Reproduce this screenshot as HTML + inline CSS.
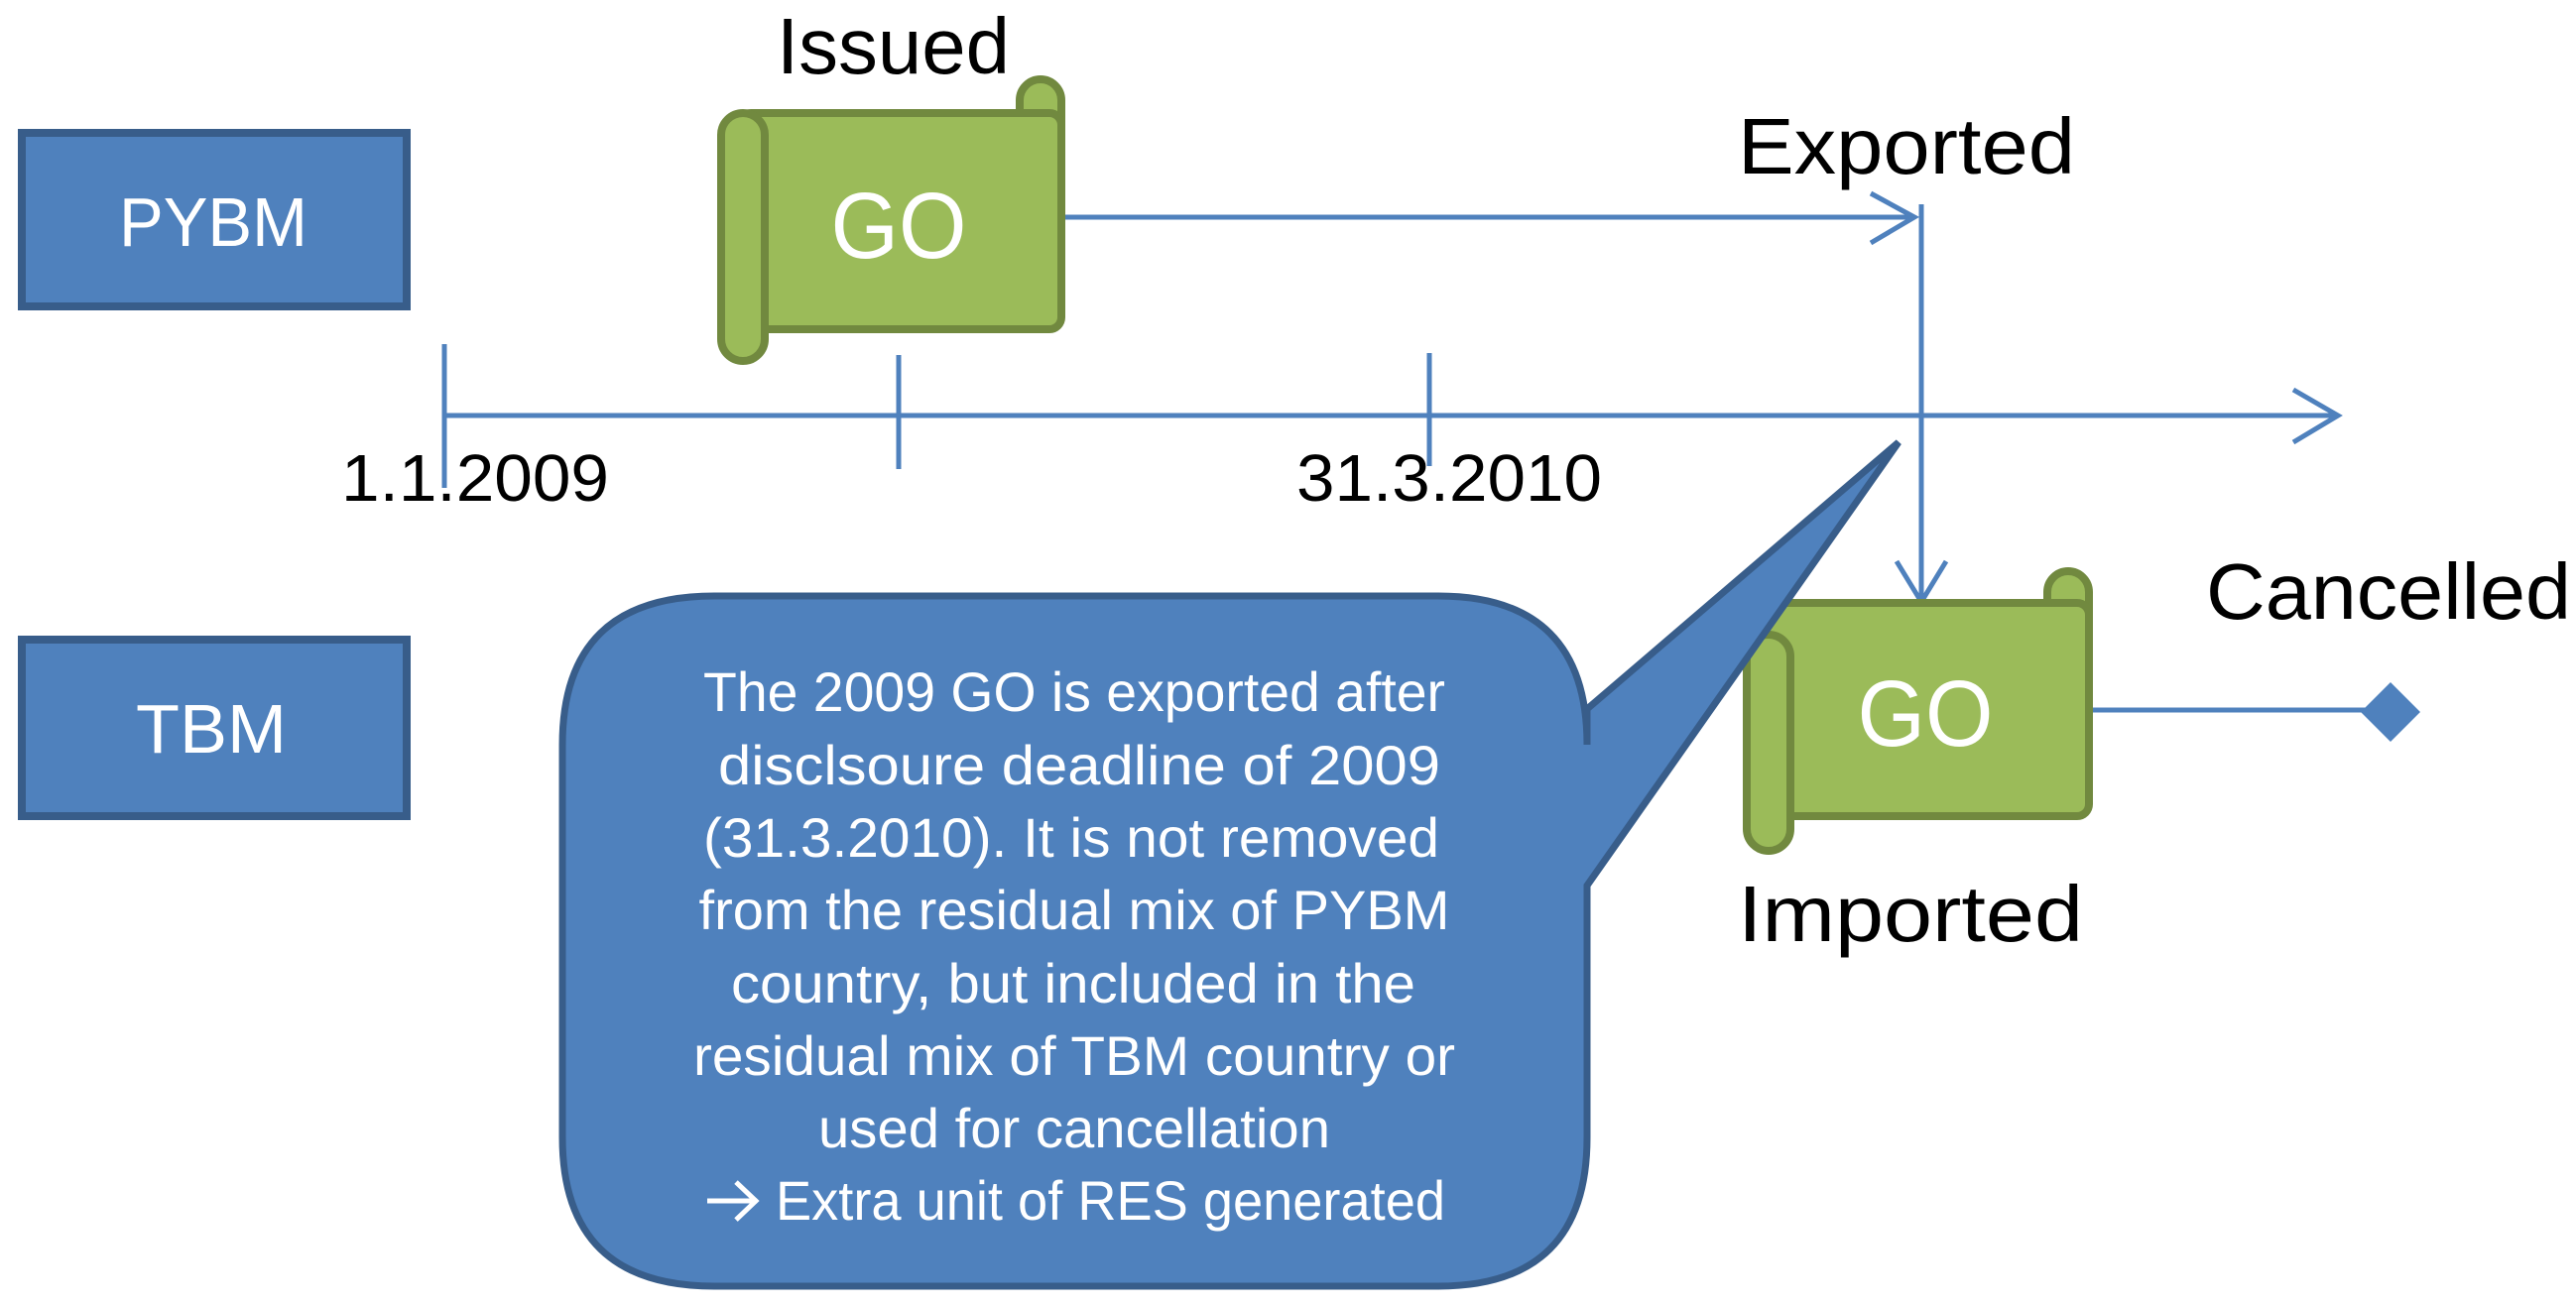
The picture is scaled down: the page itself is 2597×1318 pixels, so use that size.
<!DOCTYPE html>
<html><head><meta charset="utf-8"><style>html,body{margin:0;padding:0;background:#fff}svg{display:block}</style></head>
<body>
<svg width="2597" height="1318" viewBox="0 0 2597 1318" xmlns="http://www.w3.org/2000/svg" font-family="Liberation Sans, sans-serif">
<rect width="2597" height="1318" fill="#fff"/>
<rect x="22" y="134" width="388" height="175" fill="#4F81BD" stroke="#385D8A" stroke-width="8"/>
<text x="215" y="248" font-size="70" fill="#fff" text-anchor="middle" textLength="190" lengthAdjust="spacingAndGlyphs">PYBM</text>
<rect x="22" y="645" width="388" height="178" fill="#4F81BD" stroke="#385D8A" stroke-width="8"/>
<text x="213" y="759" font-size="70" fill="#fff" text-anchor="middle" textLength="152" lengthAdjust="spacingAndGlyphs">TBM</text>

<g stroke="#4F81BD" stroke-width="5" fill="none">
<line x1="447" y1="419" x2="2355" y2="419"/>
<polyline points="2312,393 2357,419 2312,446"/>
<line x1="448" y1="347" x2="448" y2="492"/>
<line x1="906" y1="358" x2="906" y2="473"/>
<line x1="1441" y1="356" x2="1441" y2="470"/>
<line x1="1070" y1="219" x2="1928" y2="219"/>
<polyline points="1886,195 1930,219 1886,245"/>
<line x1="1937" y1="206" x2="1937" y2="605"/>
<polyline points="1912,566 1937,607 1962,566"/>
<line x1="2108" y1="716" x2="2400" y2="716"/>
</g>
<polygon points="2410,688 2440,718 2410,748 2380,718" fill="#4F81BD"/>

<text x="344" y="505" font-size="67" fill="#000" textLength="270" lengthAdjust="spacingAndGlyphs">1.1.2009</text>
<text x="1307" y="505" font-size="67" fill="#000" textLength="308" lengthAdjust="spacingAndGlyphs">31.3.2010</text>
<text x="783" y="74" font-size="80" fill="#000" textLength="235" lengthAdjust="spacingAndGlyphs">Issued</text>
<text x="1752" y="175" font-size="80" fill="#000" textLength="340" lengthAdjust="spacingAndGlyphs">Exported</text>
<text x="1752" y="949" font-size="80" fill="#000" textLength="348" lengthAdjust="spacingAndGlyphs">Imported</text>
<text x="2224" y="624" font-size="80" fill="#000" textLength="368" lengthAdjust="spacingAndGlyphs">Cancelled</text>

<g fill="#9BBB59" stroke="#71893F" stroke-width="8">
<rect x="1028" y="80" width="42" height="70" rx="21"/>
<rect x="745" y="114" width="325" height="218" rx="12"/>
<rect x="727" y="114" width="44" height="250" rx="22"/>
</g>
<text x="906" y="260" font-size="95" fill="#fff" text-anchor="middle" textLength="137" lengthAdjust="spacingAndGlyphs">GO</text>

<g fill="#9BBB59" stroke="#71893F" stroke-width="8">
<rect x="2064" y="576" width="42" height="70" rx="21"/>
<rect x="1780" y="608" width="326" height="215" rx="12"/>
<rect x="1761" y="640" width="44" height="218" rx="22"/>
</g>
<text x="1941" y="752" font-size="95" fill="#fff" text-anchor="middle" textLength="137" lengthAdjust="spacingAndGlyphs">GO</text>

<path d="M720,601 L1450,601 Q1600,601 1600,751 L1600,715 L1914,446 L1600,893 L1600,1147 Q1600,1297 1450,1297 L720,1297 Q567,1297 567,1147 L567,751 Q567,601 720,601 Z" fill="#4F81BD" stroke="#385D8A" stroke-width="7" stroke-linejoin="miter"/>
<g font-size="56" fill="#fff" text-anchor="middle">
<text x="1083" y="717" textLength="748" lengthAdjust="spacingAndGlyphs">The 2009 GO is exported after</text>
<text x="1088" y="791" textLength="728" lengthAdjust="spacingAndGlyphs">disclsoure deadline of 2009</text>
<text x="1080" y="864" textLength="742" lengthAdjust="spacingAndGlyphs">(31.3.2010). It is not removed</text>
<text x="1083" y="937" textLength="757" lengthAdjust="spacingAndGlyphs">from the residual mix of PYBM</text>
<text x="1082" y="1011" textLength="690" lengthAdjust="spacingAndGlyphs">country, but included in the</text>
<text x="1083" y="1084" textLength="768" lengthAdjust="spacingAndGlyphs">residual mix of TBM country or</text>
<text x="1083" y="1157" textLength="516" lengthAdjust="spacingAndGlyphs">used for cancellation</text>
<text x="782" y="1230" text-anchor="start" textLength="675" lengthAdjust="spacingAndGlyphs">Extra unit of RES generated</text>
</g>
<path d="M713,1211 L760,1211 M742,1192 L762,1211 L742,1230" stroke="#fff" stroke-width="5" fill="none"/>
</svg>
</body></html>
